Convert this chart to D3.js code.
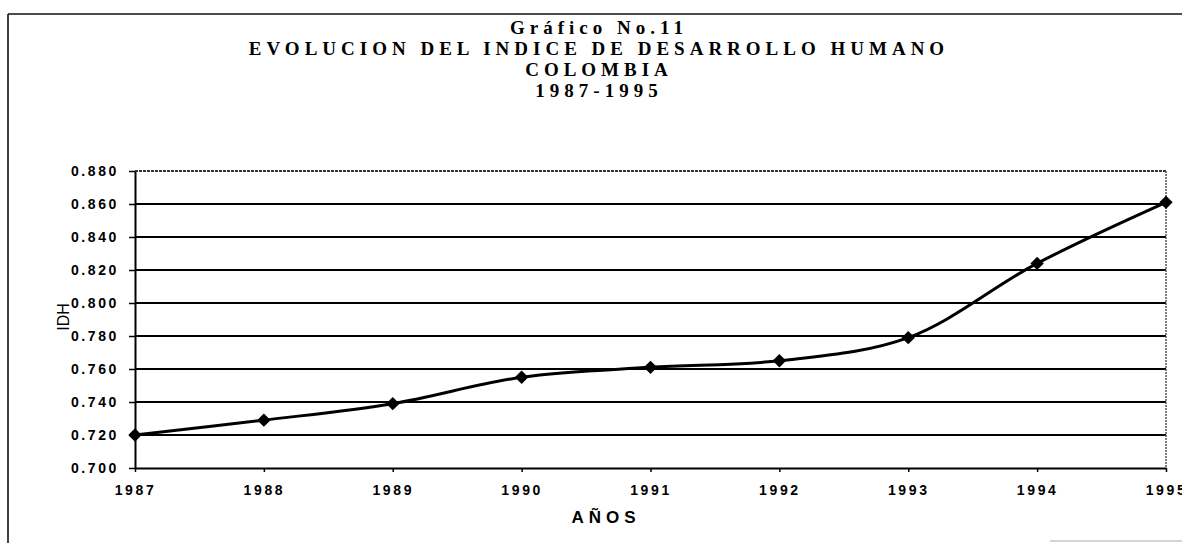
<!DOCTYPE html>
<html>
<head>
<meta charset="utf-8">
<script src="https://cdn.jsdelivr.net/npm/d3@7"></script>
<style>
  body { margin: 0; background: #fff; }
  svg { display: block; }
</style>
</head>
<body>
<div id="chart"></div>
<script>
var years = [1987, 1988, 1989, 1990, 1991, 1992, 1993, 1994, 1995];
var idh = [0.720, 0.729, 0.739, 0.755, 0.761, 0.765, 0.779, 0.824, 0.861];
var yTicks = [0.700, 0.720, 0.740, 0.760, 0.780, 0.800, 0.820, 0.840, 0.860, 0.880];
var titleLines = ["Gráfico No.11", "EVOLUCION DEL INDICE DE DESARROLLO HUMANO", "COLOMBIA", "1987-1995"];

var width = 1182, height = 543;
var plot = {left: 135, right: 1166, top: 171, bottom: 468};

var svg = d3.select("#chart").append("svg")
    .attr("width", width)
    .attr("height", height);

// outer frame (scanned page border)
svg.append("line")
    .attr("x1", 8).attr("y1", 14).attr("x2", 8).attr("y2", height)
    .attr("stroke", "#000").attr("stroke-width", 1.5);
svg.append("line")
    .attr("x1", 8).attr("y1", 14).attr("x2", width).attr("y2", 14)
    .attr("stroke", "#111").attr("stroke-width", 1.5);
svg.append("line")
    .attr("x1", 1050).attr("y1", 541).attr("x2", width).attr("y2", 541)
    .attr("stroke", "#aaa").attr("stroke-width", 1);

// title
svg.append("g").selectAll("text")
    .data(titleLines)
  .enter().append("text")
    .attr("x", 599)
    .attr("y", function(d, i) { return 34 + i * 21; })
    .attr("text-anchor", "middle")
    .style("font-family", "'Liberation Serif', 'Times New Roman', serif")
    .style("font-weight", "bold")
    .style("font-size", "19px")
    .style("letter-spacing", "5px")
    .text(function(d) { return d; });

var x = d3.scaleLinear()
    .domain([d3.min(years), d3.max(years)])
    .range([plot.left, plot.right]);

var y = d3.scaleLinear()
    .domain([0.700, 0.880])
    .range([plot.bottom, plot.top]);

// grid lines
svg.append("g").selectAll("line")
    .data(yTicks.slice(1))
  .enter().append("line")
    .attr("x1", plot.left).attr("x2", plot.right)
    .attr("y1", function(d) { return y(d); })
    .attr("y2", function(d) { return y(d); })
    .attr("stroke", function(d, i) { return i == yTicks.length - 2 ? "#333" : "#000"; })
    .attr("stroke-width", 1.5)
    .attr("shape-rendering", "crispEdges")
    .attr("stroke-dasharray", function(d, i) { return i == yTicks.length - 2 ? "3,1" : null; });

// right edge of plot area
svg.append("line")
    .attr("x1", plot.right).attr("x2", plot.right)
    .attr("y1", plot.top).attr("y2", plot.bottom)
    .attr("stroke", "#555").attr("stroke-width", 1.5)
    .attr("stroke-dasharray", "2,1");

var tickFont = function(sel) {
    sel.attr("fill", "#000")
        .style("font-family", "'Liberation Sans', Arial, sans-serif")
        .style("font-weight", "bold")
        .style("font-size", "14px")
        .style("letter-spacing", "2.6px");
};

// y axis
var yAxis = svg.append("g")
    .attr("transform", "translate(" + plot.left + ",0)")
    .call(d3.axisLeft(y).tickValues(yTicks).tickFormat(d3.format(".3f")).tickSizeInner(6).tickSizeOuter(0).tickPadding(10));
yAxis.select(".domain").attr("stroke", "#000").attr("stroke-width", 2);
yAxis.selectAll(".tick line").attr("stroke", "#000").attr("stroke-width", 1.5);
yAxis.selectAll("text").call(tickFont);

// x axis
var xAxis = svg.append("g")
    .attr("transform", "translate(0," + plot.bottom + ")")
    .call(d3.axisBottom(x).tickValues(years).tickFormat(d3.format("d")).tickSizeInner(4).tickSizeOuter(0).tickPadding(13));
xAxis.select(".domain").attr("stroke", "#000").attr("stroke-width", 2);
xAxis.selectAll(".tick line").attr("stroke", "#000").attr("stroke-width", 1.5);
xAxis.selectAll("text").call(tickFont);

// axis titles
svg.append("text")
    .attr("x", 606)
    .attr("y", 523)
    .attr("text-anchor", "middle")
    .style("font-family", "'Liberation Sans', Arial, sans-serif")
    .style("font-weight", "bold")
    .style("font-size", "17px")
    .style("letter-spacing", "5px")
    .text("AÑOS");

svg.append("text")
    .attr("transform", "translate(69,317) rotate(-90)")
    .attr("text-anchor", "middle")
    .style("font-family", "'Liberation Sans', Arial, sans-serif")
    .style("font-size", "16px")
    .text("IDH");

// series line
var points = years.map(function(d, i) { return {year: d, val: idh[i]}; });

var line = d3.line()
    .x(function(d) { return x(d.year); })
    .y(function(d) { return y(d.val); })
    .curve(d3.curveCatmullRom.alpha(0.5));

svg.append("path")
    .datum(points)
    .attr("fill", "none")
    .attr("stroke", "#000")
    .attr("stroke-width", 3)
    .attr("d", line);

svg.append("g").selectAll("path")
    .data(points)
  .enter().append("path")
    .attr("transform", function(d) { return "translate(" + x(d.year) + "," + y(d.val) + ") rotate(45)"; })
    .attr("d", d3.symbol().type(d3.symbolSquare).size(90))
    .attr("fill", "#000");
</script>
</body>
</html>
